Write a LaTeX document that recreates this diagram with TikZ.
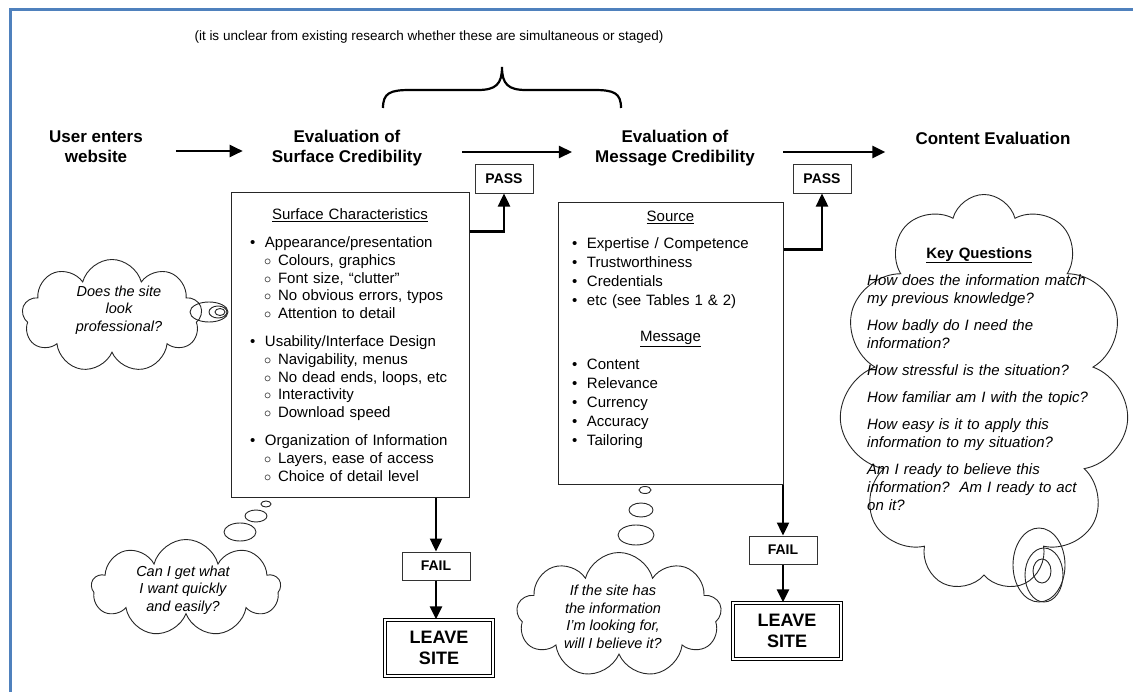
\documentclass[tikz,border=0pt]{standalone}
\usepackage{fontspec}
\setmainfont{Liberation Sans}
\usepackage{tikz}
\usetikzlibrary{arrows.meta,shapes.symbols}
\definecolor{frameblue}{RGB}{79,129,189}
\newcommand{\fs}[2]{\fontsize{#1bp}{#2bp}\selectfont}
\newcommand{\bitem}[1]{\makebox[15bp][l]{\textbullet}#1\par}
\newcommand{\citem}[1]{\hspace*{14bp}\makebox[14bp][l]{$\circ$}#1\par}

\begin{document}
\begin{tikzpicture}[x=1bp,y=-1bp,
  head/.style={font=\bfseries\fs{17}{20}, align=center, inner sep=0},
  flow/.style={line width=2.4bp, -{Triangle[length=13bp,width=12bp]}},
  panel/.style={draw=black!85, line width=1bp, text width=#1, align=left, font=\fs{15}{17.75}},
  tag/.style={draw=black!80, line width=1bp, font=\bfseries\fs{14}{16}, minimum height=28bp},
  leave/.style={draw, double, double distance=2bp, line width=1.2bp, font=\bfseries\fs{18}{21}, align=center, minimum width=108bp, minimum height=56bp},
  thought/.style={cloud, cloud ignores aspect, draw=black!85, line width=0.9bp},
  say/.style={font=\itshape\fs{14.5}{17.5}, align=center},
  bubble/.style={draw=black!85, line width=0.9bp}]
\useasboundingbox (0,0) rectangle (1133,692);
\draw[frameblue, line width=3bp] (10,692) -- (10,10) -- (1133,10);

% stages along the top
\node[font=\fs{13.5}{16}] (note) at (429,37) {(it is unclear from existing research whether these are simultaneous or staged)};
\draw[line width=2.2bp] (383,108) .. controls (383,93) and (390,90) .. (410,90) -- (478,90)
  .. controls (496,90) and (502,84) .. (502,67) .. controls (502,84) and (508,90) .. (526,90)
  -- (594,90) .. controls (614,90) and (621,93) .. (621,108);
\node[head] (user) at (96,147) {User enters\\website};
\node[head] (evalS) at (347,148) {Evaluation of\\Surface Credibility};
\node[head] (evalM) at (675,148) {Evaluation of\\Message Credibility};
\node[head] (content) at (993,138) {Content Evaluation};
\draw[flow, shorten <=33bp, shorten >=29bp] ([yshift=-4bp]user.east) -- ([yshift=-4bp]user.east -| evalS.west);
\draw[flow, shorten <=40bp, shorten >=23bp] ([yshift=-4bp]evalS.east) -- ([yshift=-4bp]evalS.east -| evalM.west);
\draw[flow, shorten <=28bp, shorten >=30bp] ([yshift=-4bp]evalM.east) -- ([yshift=-4bp]evalM.east -| content.west);

% surface box
\node[panel=200bp, inner xsep=19bp, minimum height=304bp] (surf) at (350,345) {
  {\centering\underline{Surface Characteristics}\par}\vspace{10.25bp}
  \bitem{Appearance/presentation}
  \citem{Colours, graphics}
  \citem{Font size, ``clutter''}
  \citem{No obvious errors, typos}
  \citem{Attention to detail}\vspace{10.25bp}
  \bitem{Usability/Interface Design}
  \citem{Navigability, menus}
  \citem{No dead ends, loops, etc}
  \citem{Interactivity}
  \citem{Download speed}\vspace{10.25bp}
  \bitem{Organization of Information}
  \citem{Layers, ease of access}
  \citem{Choice of detail level}};

% message box
\node[panel=197bp, inner xsep=14bp, minimum height=281bp, font=\fs{15}{19}] (msg) at (670.5,343.5) {
  {\centering\underline{Source}\par}\vspace{8bp}
  \bitem{Expertise / Competence}
  \bitem{Trustworthiness}
  \bitem{Credentials}
  \bitem{etc (see Tables 1 \& 2)}\vspace{17bp}
  {\centering\underline{Message}\par}\vspace{9bp}
  \bitem{Content}
  \bitem{Relevance}
  \bitem{Currency}
  \bitem{Accuracy}
  \bitem{Tailoring}
  \rule[-12bp]{0pt}{12bp}};

% pass / fail
\node[tag, minimum width=58bp] (pass1) at (504,179) {PASS};
\node[tag, minimum width=58bp] (pass2) at (822,179) {PASS};
\node[tag, minimum width=68bp] (fail1) at (436,566) {FAIL};
\node[tag, minimum width=68bp] (fail2) at (783,550) {FAIL};
\node[leave] (leave1) at (439,648) {LEAVE\\SITE};
\node[leave] (leave2) at (787,631) {LEAVE\\SITE};
\draw[flow] ([yshift=-39bp]surf.north east) -| (pass1.south);
\draw[flow] ([yshift=-47bp]msg.north east) -| (pass2.south);
\draw[flow] (surf.south -| fail1.north) -- (fail1.north);
\draw[flow] (fail1.south) -- (fail1.south |- leave1.north);
\draw[flow] (msg.south east -| fail2.north) -- (fail2.north);
\draw[flow] (fail2.south) -- (fail2.south |- leave2.north);

% thoughts
\node[thought, cloud puffs=9, minimum width=180bp, minimum height=113bp] (cloudA) at (112,316) {};
\node[say] (askA) at (119,310) {Does the site\\look\\professional?};
\draw[bubble] (209,312) ellipse (19bp and 10bp);
\draw[bubble] (218,312) ellipse (9bp and 6bp);
\draw[bubble] (220,312) ellipse (5bp and 3.5bp);

\node[thought, cloud puffs=9, minimum width=189bp, minimum height=97bp] (cloudB) at (186,588) {};
\node[say] (askB) at (183,590) {Can I get what\\I want quickly\\and easily?};
\draw[bubble] (240,532) ellipse (16bp and 9bp);
\draw[bubble] (256,516) ellipse (11bp and 6bp);
\draw[bubble] (266,504) ellipse (5bp and 3bp);

\node[thought, cloud puffs=9, minimum width=205bp, minimum height=125bp] (cloudC) at (619,615) {};
\node[say] (askC) at (613,617) {If the site has\\the information\\I'm looking for,\\will I believe it?};
\draw[bubble] (636,535) ellipse (18bp and 10bp);
\draw[bubble] (641,510) ellipse (12bp and 7bp);
\draw[bubble] (645,490) ellipse (6bp and 3.5bp);

\node[thought, cloud puffs=11, minimum width=290bp, minimum height=397bp] (cloudD) at (984,393) {};
\node[say, align=left, text width=224bp, inner sep=0, anchor=north west, font=\fs{15}{18}] (keyq) at (867,247) {\parskip=9bp
  {\centering\bfseries\underline{Key Questions}\par}
  \itshape How does the information match\\my previous knowledge?\par
  How badly do I need the\\information?\par
  How stressful is the situation?\par
  How familiar am I with the topic?\par
  How easy is it to apply this\\information to my situation?\par
  Am I ready to believe this\\information?\ \ Am I ready to act\\on it?\par};
\draw[bubble] (1039,565) ellipse (26bp and 37bp);
\draw[bubble] (1044,575) ellipse (19bp and 27bp);
\draw[bubble] (1042,571) ellipse (9bp and 12bp);
\end{tikzpicture}
\end{document}
